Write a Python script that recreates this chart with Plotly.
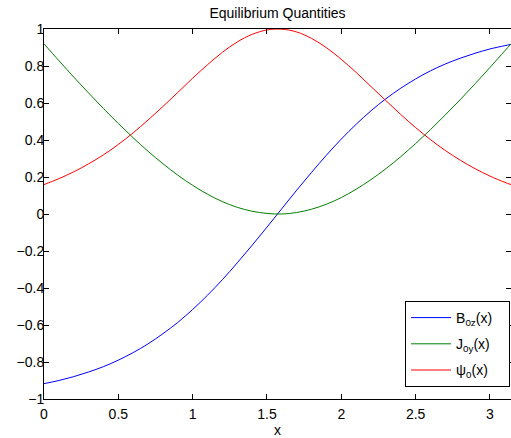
import plotly.graph_objects as go

x_vals = [0.0, 0.1, 0.2, 0.3, 0.4, 0.5, 0.6, 0.7, 0.8, 0.9, 1.0, 1.1, 1.2, 1.3, 1.4, 1.5,
          1.6, 1.7, 1.8, 1.9, 2.0, 2.1, 2.2, 2.3, 2.4, 2.5, 2.6, 2.7, 2.8, 2.9, 3.0, 3.1, 3.1416]
b0z = [-0.917, -0.900, -0.879, -0.854, -0.825, -0.790, -0.749, -0.702, -0.647, -0.586, -0.516,
       -0.439, -0.355, -0.264, -0.169, -0.071, 0.029, 0.129, 0.225, 0.318, 0.405, 0.485, 0.558,
       0.623, 0.680, 0.730, 0.774, 0.811, 0.842, 0.869, 0.892, 0.910, 0.917]
j0y = [0.920, 0.829, 0.740, 0.654, 0.570, 0.489, 0.412, 0.339, 0.272, 0.210, 0.155, 0.107,
       0.067, 0.036, 0.015, 0.003, 0.000, 0.008, 0.026, 0.053, 0.089, 0.134, 0.186, 0.245,
       0.310, 0.381, 0.456, 0.536, 0.618, 0.704, 0.792, 0.882, 0.920]
psi0 = [0.159, 0.191, 0.228, 0.271, 0.320, 0.376, 0.439, 0.508, 0.581, 0.657, 0.734, 0.807,
        0.874, 0.930, 0.971, 0.995, 0.999, 0.984, 0.949, 0.899, 0.836, 0.765, 0.689, 0.613,
        0.538, 0.467, 0.402, 0.343, 0.291, 0.245, 0.205, 0.171, 0.159]

series_names = ["B<sub>0z</sub>(x)\u00a0\u00a0\u00a0", "J<sub>0y</sub>(x)\u00a0\u00a0\u00a0",
                "\u03c8<sub>0</sub>(x)\u00a0\u00a0\u00a0"]
series_vals = [b0z, j0y, psi0]
series_colors = ["#0000ff", "#008000", "#ff0000"]

x_ticks = [0, 0.5, 1, 1.5, 2, 2.5, 3]
y_ticks = [-1, -0.8, -0.6, -0.4, -0.2, 0, 0.2, 0.4, 0.6, 0.8, 1]
y_tick_text = ["\u22121", "\u22120.8", "\u22120.6", "\u22120.4", "\u22120.2", "0",
               "0.2", "0.4", "0.6", "0.8", "1"]

fig = go.Figure()
for i, (name, vals, col) in enumerate(zip(series_names, series_vals, series_colors)):
    fig.add_trace(go.Scatter(x=x_vals, y=vals, mode="lines", name=name,
                             legendgroup=f"g{i}",
                             line=dict(color=col, width=1, shape="spline")))

font = dict(family="Liberation Sans, Arial, sans-serif", size=14, color="black")

W, H = 511, 438
L, R, T, B = 44, 0, 29, 39

fig.update_layout(
    width=W, height=H,
    margin=dict(l=L, r=R, t=T, b=B),
    paper_bgcolor="white", plot_bgcolor="white",
    font=font,
    title=dict(text="Equilibrium Quantities", x=277.5 / W, xanchor="center",
               y=1 - 13 / H, yanchor="middle", font=dict(size=14)),
    showlegend=True,
    legend=dict(x=0.998, xanchor="right", y=12 / 370, yanchor="bottom",
                bgcolor="white", bordercolor="black", borderwidth=1,
                font=dict(size=14), tracegroupgap=5, itemwidth=40),
)
fig.update_xaxes(range=[0, 3.1416], tickvals=x_ticks, ticks="inside", ticklen=5,
                 showgrid=False, zeroline=False, showline=True, linecolor="black",
                 linewidth=1, mirror="ticks", tickcolor="black",
                 ticklabelstandoff=2,
                 title=dict(text="x", standoff=0, font=dict(size=14)))
fig.update_yaxes(range=[-1, 1], tickvals=y_ticks, ticktext=y_tick_text, ticks="inside",
                 ticklen=5, showgrid=False, zeroline=False, showline=True,
                 linecolor="black", linewidth=1, mirror="ticks", tickcolor="black",
                 ticklabelstandoff=-4)

fig.write_html("out.html", config={"displayModeBar": False},
               post_script="document.body.style.margin='0';")
